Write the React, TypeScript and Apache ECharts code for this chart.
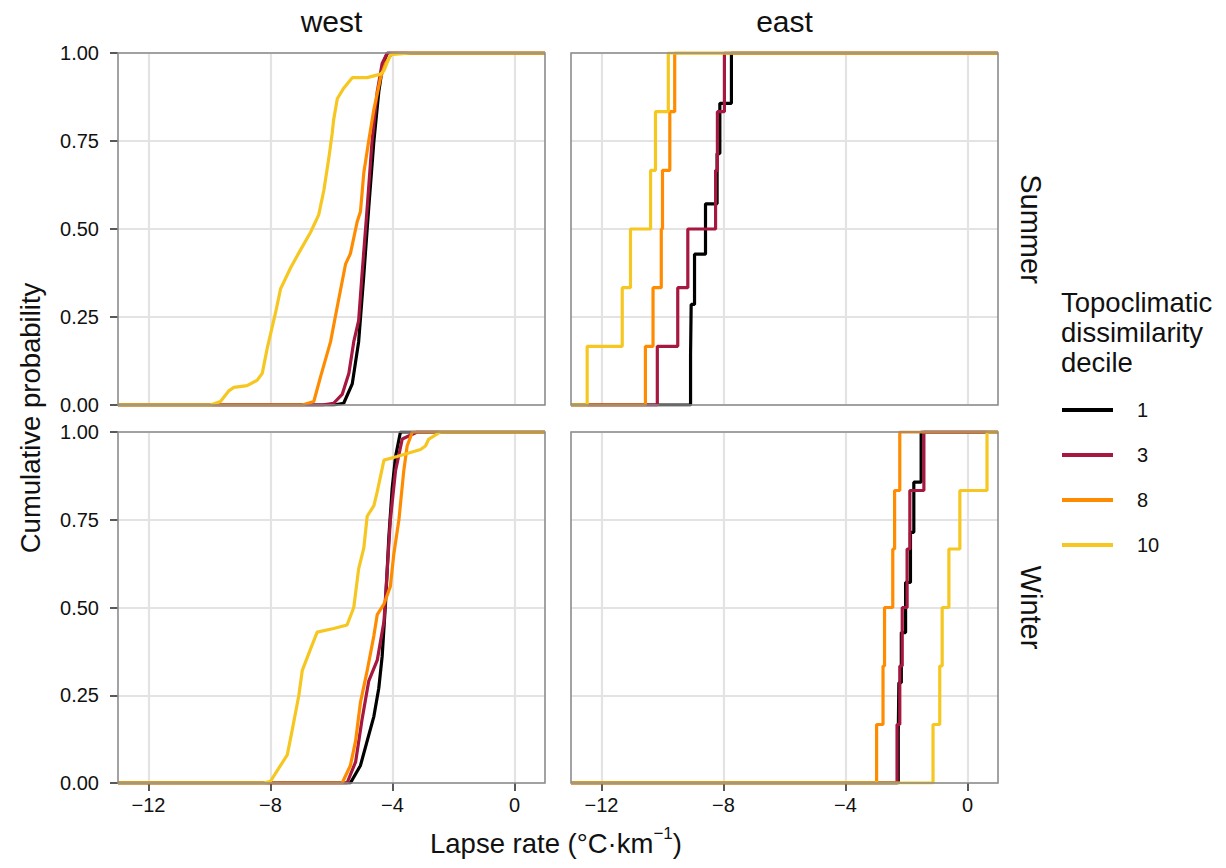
import React, { useEffect, useRef } from "react";
import * as echarts from "echarts";

// ---------- data ----------
const deciles = ["1", "3", "8", "10"];
const decileColors = ["#000000", "#A6183F", "#FF8C00", "#F6C720"];
const xTicks = [-12, -8, -4, 0];
const facetCols = ["west", "east"];
const facetRows = ["Summer", "Winter"];

// West panels: ECDF curves read as [lapse rate, cumulative probability]
const westSummer1 = [[-5.93, 0], [-5.6, 0.005], [-5.32, 0.06], [-5.11, 0.18], [-4.94, 0.37], [-4.78, 0.56], [-4.61, 0.75], [-4.45, 0.89], [-4.31, 0.97], [-4.17, 1]];
const westSummer3 = [[-6.31, 0], [-5.93, 0.005], [-5.65, 0.03], [-5.43, 0.09], [-5.27, 0.18], [-5.11, 0.24], [-5.0, 0.37], [-4.83, 0.56], [-4.67, 0.75], [-4.5, 0.89], [-4.34, 0.97], [-4.17, 1]];
const westSummer8 = [[-6.96, 0], [-6.58, 0.01], [-6.36, 0.08], [-6.03, 0.18], [-5.81, 0.28], [-5.54, 0.4], [-5.38, 0.43], [-5.16, 0.52], [-5.05, 0.55], [-4.94, 0.66], [-4.78, 0.75], [-4.61, 0.84], [-4.39, 0.93], [-4.23, 0.97], [-4.01, 1]];
const westSummer10 = [[-9.97, 0], [-9.64, 0.01], [-9.37, 0.04], [-9.2, 0.05], [-8.77, 0.055], [-8.44, 0.07], [-8.27, 0.09], [-8.11, 0.16], [-7.95, 0.22], [-7.84, 0.26], [-7.67, 0.33], [-7.34, 0.39], [-7.02, 0.44], [-6.69, 0.49], [-6.42, 0.54], [-6.25, 0.61], [-6.09, 0.7], [-5.98, 0.77], [-5.93, 0.81], [-5.81, 0.87], [-5.6, 0.9], [-5.32, 0.93], [-4.83, 0.93], [-4.39, 0.94], [-4.28, 0.95], [-4.07, 0.995], [-3.41, 1]];

const westWinter1 = [[-5.38, 0], [-5.05, 0.05], [-4.83, 0.12], [-4.61, 0.19], [-4.45, 0.27], [-4.34, 0.36], [-4.23, 0.51], [-4.12, 0.7], [-4.01, 0.84], [-3.9, 0.93], [-3.74, 1]];
const westWinter3 = [[-5.49, 0], [-5.21, 0.06], [-5.0, 0.18], [-4.78, 0.29], [-4.5, 0.35], [-4.28, 0.46], [-4.17, 0.61], [-4.07, 0.75], [-3.9, 0.89], [-3.68, 0.98], [-3.19, 1]];
const westWinter8 = [[-5.65, 0], [-5.38, 0.05], [-5.21, 0.12], [-5.05, 0.23], [-4.83, 0.32], [-4.61, 0.42], [-4.5, 0.48], [-4.28, 0.51], [-4.07, 0.56], [-3.96, 0.65], [-3.79, 0.75], [-3.63, 0.89], [-3.52, 0.96], [-3.35, 1]];
const westWinter10 = [[-8.22, 0], [-8.0, 0.005], [-7.67, 0.05], [-7.45, 0.08], [-7.29, 0.15], [-7.07, 0.25], [-6.96, 0.32], [-6.74, 0.37], [-6.47, 0.43], [-5.93, 0.44], [-5.49, 0.45], [-5.27, 0.5], [-5.11, 0.61], [-4.94, 0.67], [-4.83, 0.76], [-4.61, 0.79], [-4.5, 0.83], [-4.28, 0.92], [-3.85, 0.93], [-3.08, 0.95], [-2.92, 0.96], [-2.81, 0.98], [-2.43, 1]];

// East panels: individual observations (sorted), drawn as ECDF steps
const eastSummer1 = [-9.08, -9.06, -8.95, -8.59, -8.21, -8.12, -7.74];
const eastSummer3 = [-10.17, -9.5, -9.17, -8.26, -8.2, -7.97];
const eastSummer8 = [-10.56, -10.31, -10.04, -10.0, -9.76, -9.6];
const eastSummer10 = [-12.47, -11.32, -11.05, -10.39, -10.23, -9.81];

const eastWinter1 = [-2.27, -2.25, -2.17, -2.03, -1.87, -1.76, -1.52];
const eastWinter3 = [-2.31, -2.22, -2.14, -1.98, -1.89, -1.43];
const eastWinter8 = [-2.98, -2.77, -2.72, -2.45, -2.39, -2.22];
const eastWinter10 = [-1.13, -0.91, -0.83, -0.61, -0.25, 0.64];

// ---------- helpers ----------
const X_MIN = -13;
const X_MAX = 1;
const FONT = "Liberation Sans, Arial, Helvetica, sans-serif";

const fmtNum = (v: number) => (v < 0 ? "\u2212" + Math.abs(v) : String(v));

function ecdfFromObs(obs: number[]) {
  const n = obs.length;
  const pts: number[][] = [[X_MIN, 0]];
  obs.forEach((v, i) => pts.push([v, (i + 1) / n]));
  pts.push([X_MAX, 1]);
  return pts;
}
function padCurve(curve: number[][]) {
  return [[X_MIN, 0], ...curve, [X_MAX, 1]];
}

export default function App() {
  const ref = useRef<HTMLDivElement>(null);

  useEffect(() => {
    if (!ref.current) return;
    const chart = echarts.init(ref.current, undefined, { renderer: "svg" });

    const gridDefs = [
      { left: 118, top: 53, width: 427, height: 352 },
      { left: 571, top: 53, width: 427, height: 352 },
      { left: 118, top: 432, width: 427, height: 351 },
      { left: 571, top: 432, width: 427, height: 351 },
    ];

    const panels = [
      { grid: 0, step: false, sets: [westSummer1, westSummer3, westSummer8, westSummer10] },
      { grid: 1, step: true, sets: [eastSummer1, eastSummer3, eastSummer8, eastSummer10] },
      { grid: 2, step: false, sets: [westWinter1, westWinter3, westWinter8, westWinter10] },
      { grid: 3, step: true, sets: [eastWinter1, eastWinter3, eastWinter8, eastWinter10] },
    ];

    const series: any[] = [];
    panels.forEach((p) => {
      p.sets.forEach((set: any, k: number) => {
        series.push({
          type: "line",
          name: deciles[k],
          xAxisIndex: p.grid,
          yAxisIndex: p.grid,
          data: p.step ? ecdfFromObs(set as number[]) : padCurve(set as number[][]),
          step: p.step ? "end" : false,
          showSymbol: false,
          symbol: "none",
          clip: true,
          lineStyle: { color: decileColors[k], width: 3.2 },
          itemStyle: { color: decileColors[k] },
          z: 3 + k,
        });
      });
    });

    const xAxes = gridDefs.map((_, i) => ({
      type: "value",
      gridIndex: i,
      min: X_MIN,
      max: X_MAX,
      axisLine: { show: false, onZero: false },
      axisTick: {
        show: i >= 2,
        customValues: xTicks,
        length: 8,
        lineStyle: { color: "#222", width: 1.5 },
      },
      axisLabel: {
        show: i >= 2,
        customValues: xTicks,
        formatter: (v: number) => fmtNum(v),
        fontFamily: FONT,
        fontSize: 20,
        color: "#111",
        margin: 12,
      },
      splitLine: { show: true, lineStyle: { color: "#e3e3e3", width: 2.2 } },
    }));

    const yAxes = gridDefs.map((_, i) => ({
      type: "value",
      gridIndex: i,
      min: 0,
      max: 1,
      interval: 0.25,
      axisLine: { show: false, onZero: false },
      axisTick: {
        show: i % 2 === 0,
        length: 8,
        lineStyle: { color: "#222", width: 1.5 },
      },
      axisLabel: {
        show: i % 2 === 0,
        formatter: (v: number) => v.toFixed(2),
        fontFamily: FONT,
        fontSize: 20,
        color: "#111",
        margin: 19,
      },
      splitLine: { show: true, lineStyle: { color: "#e3e3e3", width: 2.2 } },
    }));

    const textStyleBase = { fontFamily: FONT, fill: "#111" };

    chart.setOption({
      animation: false,
      backgroundColor: "#ffffff",
      grid: gridDefs.map((g) => ({
        ...g,
        show: true,
        z: 20,
        borderColor: "#8c8c8c",
        borderWidth: 1.6,
        backgroundColor: "transparent",
      })),
      xAxis: xAxes,
      yAxis: yAxes,
      series,
      legend: {
        data: deciles,
        orient: "vertical",
        left: 1062,
        top: 400,
        padding: 0,
        icon: "rect",
        itemWidth: 51,
        itemHeight: 4,
        itemGap: 25,
        selectedMode: false,
        textStyle: {
          fontFamily: FONT,
          fontSize: 20,
          color: "#111",
          lineHeight: 20,
          padding: [0, 0, 0, 19],
        },
      },
      graphic: [
        { type: "text", x: 118 + 427 / 2, y: 21, style: { ...textStyleBase, text: facetCols[0], fontSize: 30, align: "center", verticalAlign: "middle" } },
        { type: "text", x: 571 + 427 / 2, y: 21, style: { ...textStyleBase, text: facetCols[1], fontSize: 30, align: "center", verticalAlign: "middle" } },
        { type: "text", x: 1031, y: 229, rotation: -Math.PI / 2, style: { ...textStyleBase, text: facetRows[0], fontSize: 29, align: "center", verticalAlign: "middle" } },
        { type: "text", x: 1031, y: 607.5, rotation: -Math.PI / 2, style: { ...textStyleBase, text: facetRows[1], fontSize: 29, align: "center", verticalAlign: "middle" } },
        { type: "text", x: 30, y: 418, rotation: Math.PI / 2, style: { ...textStyleBase, text: "Cumulative probability", fontSize: 27.5, align: "center", verticalAlign: "middle" } },
        {
          type: "text",
          x: 556,
          y: 841,
          style: {
            ...textStyleBase,
            text: "{a|Lapse rate (°C·km}{s|\u22121}{a|)}",
            align: "center",
            verticalAlign: "middle",
            rich: {
              a: { fontFamily: FONT, fontSize: 27.5, lineHeight: 32, verticalAlign: "bottom", color: "#111" },
              s: { fontFamily: FONT, fontSize: 17, lineHeight: 32, verticalAlign: "top", color: "#111", padding: [0, 0, 12, 0] },
            },
          },
        },
        {
          type: "text",
          x: 1061,
          y: 287,
          style: {
            ...textStyleBase,
            text: "Topoclimatic\ndissimilarity\ndecile",
            fontSize: 27.5,
            lineHeight: 30,
            align: "left",
            verticalAlign: "top",
          },
        },
      ],
    });

    return () => chart.dispose();
  }, []);

  return (
    <div
      ref={ref}
      style={{ position: "absolute", left: 0, top: 0, width: 1226, height: 868 }}
    />
  );
}
